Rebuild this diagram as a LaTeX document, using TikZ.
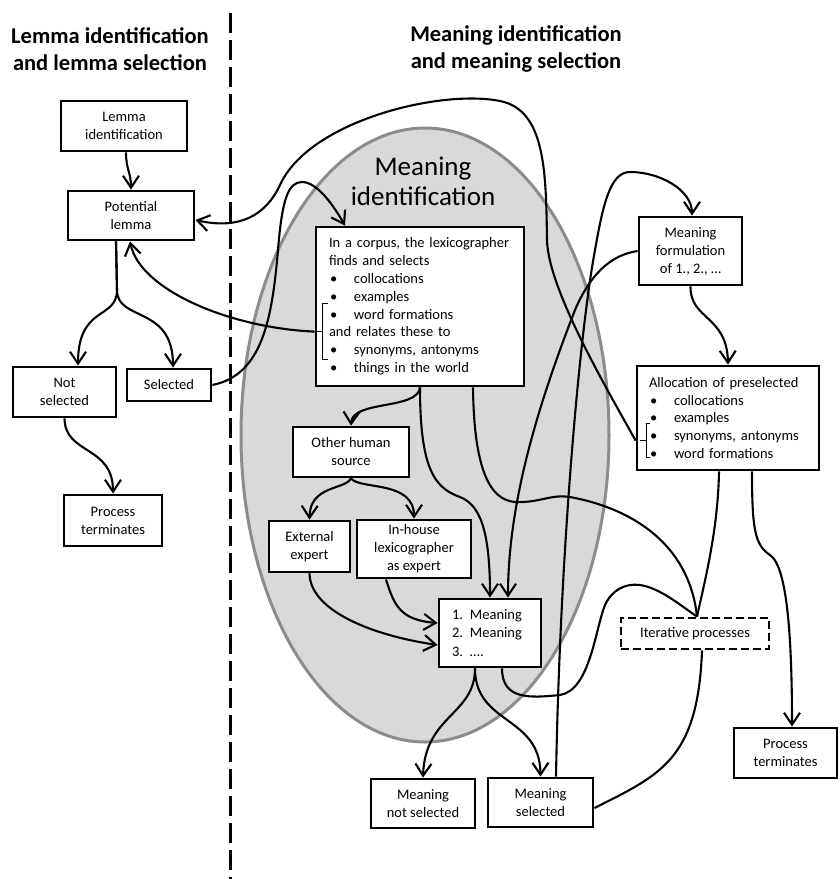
\documentclass[tikz,border=0pt]{standalone}
\usepackage{fontspec}
\setmainfont{Carlito}
\usetikzlibrary{arrows.meta,calc}
\definecolor{ellfill}{HTML}{D9D9D9}
\definecolor{ellline}{HTML}{8C8C8C}
\newcommand\bul{\makebox[25pt][l]{\hspace{1pt}•}}
\begin{document}
\begin{tikzpicture}[x=1pt,y=-1pt,
  box/.style={draw, line width=2.8pt, fill=white, align=center, inner sep=1pt,
    font=\fontsize{14.5}{18}\selectfont},
  listbox/.style={box, align=left, font=\fontsize{14.5}{17.8}\selectfont},
  conn/.style={line width=2.1pt},
  arr/.style={conn, -{Straight Barb[length=12pt,width=16pt]}},
  brk/.style={line width=1pt},
  header/.style={font=\fontsize{22.5}{27}\selectfont\bfseries, align=center}]

\useasboundingbox (0,0) rectangle (839,879);

% divider
\coordinate (divtop) at (230,13);
\coordinate (divbot) at (230,879);
\draw[line width=3pt, dash pattern=on 20pt off 7pt] (divtop) -- (divbot);

% ellipse
\draw[fill=ellfill, draw=ellline, line width=3pt] (425,435) ellipse [x radius=184pt, y radius=307pt];
\node[font=\fontsize{27}{30}\selectfont, align=center] (etitle) at (423,181) {Meaning\\identification};

% headers
\node[header] (hl) at (110,49) {Lemma identification\\and lemma selection};
\node[header] (hm) at (516,49) {Meaning identification\\and meaning selection};

% boxes
\node[box, minimum width=126pt, minimum height=50pt] (lemid) at (124,126) {Lemma\\identification};
\node[box, minimum width=126pt, minimum height=49pt] (potlem) at (131,215.5) {Potential\\lemma};
\node[box, minimum width=103pt, minimum height=50pt] (notsel) at (64.5,392) {Not\\selected};
\node[box, minimum width=84pt, minimum height=32pt] (sel) at (169,385) {Selected};
\node[box, minimum width=98pt, minimum height=51pt] (pterm1) at (113,520.5) {Process\\terminates};

\node[listbox, text width=182pt, inner xsep=13pt, minimum height=159pt] (corpus) at (420,306.5)
 {In a corpus, the lexicographer\\finds and selects\\\bul collocations\\\bul examples\\\bul word formations\\and relates these to\\\bul synonyms, antonyms\\\bul things in the world};

\node[box, minimum width=116pt, minimum height=50pt] (other) at (351,452) {Other human\\source};
\node[box, minimum width=81pt, minimum height=51pt] (ext) at (309.5,546.5) {External\\expert};
\node[box, minimum width=114pt, minimum height=58pt] (inh) at (414,549) {In-house\\lexicographer\\as expert};

\node[listbox, text width=76pt, inner xsep=13pt, minimum height=68pt, font=\fontsize{14.5}{18.5}\selectfont] (mlist) at (490,633)
 {\makebox[18pt][l]{1.}Meaning\\\makebox[18pt][l]{2.}Meaning\\\makebox[18pt][l]{3.}….};

\node[box, minimum width=104pt, minimum height=49pt] (mnot) at (423,803.5) {Meaning\\not selected};
\node[box, minimum width=105pt, minimum height=49pt] (msel) at (540.5,802.5) {Meaning\\selected};

\node[box, minimum width=103pt, minimum height=68pt] (mform) at (690.5,251) {Meaning\\formulation\\of 1., 2., …};

\node[listbox, text width=158pt, inner xsep=12pt, minimum height=104pt] (alloc) at (728,418)
 {Allocation of preselected\\\bul collocations\\\bul examples\\\bul synonyms, antonyms\\\bul word formations};

\node[box, dash pattern=on 8pt off 4pt, minimum width=148pt, minimum height=31pt] (iter) at (695,633.5) {Iterative processes};
\node[box, minimum width=103pt, minimum height=50pt] (pterm2) at (785.5,753) {Process\\terminates};

% brackets
\coordinate (cbr) at ([shift={(0,106)}]corpus.north west);
\draw[brk] ([shift={(13,78)}]corpus.north west) -- ([shift={(8,78)}]corpus.north west)
  -- ([shift={(8,134)}]corpus.north west) -- ([shift={(13,134)}]corpus.north west);
\draw[brk] (cbr) -- ([shift={(8,106)}]corpus.north west);

\coordinate (abr) at ([shift={(0,76)}]alloc.north west);
\draw[brk] ([shift={(14,59)}]alloc.north west) -- ([shift={(11,59)}]alloc.north west)
  -- ([shift={(11,93)}]alloc.north west) -- ([shift={(14,93)}]alloc.north west);
\draw[brk] ([shift={(4,76)}]alloc.north west) -- ([shift={(11,76)}]alloc.north west);

% connectors
\draw[arr] ([xshift=2pt]lemid.south) .. controls (126,170) and (131,172) .. (potlem.north);

\draw[arr] ([xshift=-15pt]potlem.south) -- (117,290) .. controls (117,320) and (78,305) .. ([xshift=13.5pt]notsel.north);
\draw[arr] ([xshift=-15pt]potlem.south) -- (117,290) .. controls (117,322) and (173,305) .. ([xshift=4pt]sel.north);

\draw[arr] (notsel.south) .. controls (65,455) and (113,445) .. ([xshift=0pt]pterm1.north);

\draw[arr] (sel.east) .. controls (262,375) and (272,320) .. (278,250)
  .. controls (282,200) and (288,182) .. (302,182)
  .. controls (318,182) and (335,208) .. ([xshift=-75pt]corpus.north);

\draw[arr] (cbr) .. controls (230,328) and (140,290) .. ([xshift=-1pt]potlem.south);

\draw[arr] (abr) .. controls (610,394) and (548,290) .. (547,240)
  .. controls (546,170) and (545,110) .. (500,101)
  .. controls (440,89) and (309,121) .. (280,185)
  .. controls (266,215) and (240,230) .. ([yshift=-4.5pt]potlem.east);

\draw[arr] (mform.west) .. controls (610,255) and (590,275) .. (575,310)
  .. controls (540,400) and (508,500) .. ([xshift=18pt]mlist.north);

\draw[arr] (corpus.south) .. controls (420,470) and (435,488) .. (460,497)
  .. controls (480,505) and (490,530) .. (mlist.north);

\draw[arr] (corpus.south) .. controls (418,410) and (352,400) .. (other.north);

\draw[arr] (other.south) .. controls (345,490) and (310,485) .. (ext.north);
\draw[arr] (other.south) .. controls (360,490) and (414,480) .. (inh.north);

\draw[arr] (ext.south) .. controls (310,610) and (370,635) .. ([yshift=-12pt]mlist.west);
\draw[arr] ([xshift=-28pt]inh.south) .. controls (394,605) and (400,620) .. ([yshift=10pt]mlist.west);

\draw[conn] ([xshift=53pt]corpus.south) .. controls (474,470) and (490,500) .. (515,502)
  .. controls (540,503) and (550,494) .. (570,497)
  .. controls (640,510) and (690,550) .. ([xshift=2pt]iter.north);

\draw[conn] ([xshift=12pt]mlist.south) .. controls (502,700) and (530,698) .. (560,695)
  .. controls (590,690) and (595,630) .. (605,605)
  .. controls (612,590) and (625,583) .. (640,585)
  .. controls (660,588) and (680,605) .. ([xshift=2pt]iter.north);

\draw[conn] ([xshift=-9pt]alloc.south) .. controls (718,530) and (705,580) .. ([xshift=2pt]iter.north);

\draw[arr] ([xshift=24pt]alloc.south) .. controls (752,530) and (755,545) .. (770,555)
  .. controls (785,565) and (792,620) .. ([xshift=6.5pt]pterm2.north);

\draw[conn] ([xshift=7pt]iter.south) .. controls (698,760) and (660,775) .. ([yshift=-5.5pt]msel.east);

\draw[arr] ([xshift=15.5pt]msel.north) .. controls (560,550) and (580,330) .. (595,250)
  .. controls (603,205) and (610,172) .. (630,172)
  .. controls (660,172) and (692,190) .. ([xshift=1.5pt]mform.north);

\draw[arr] (mform.south) .. controls (690,320) and (727,315) .. (alloc.north);

\draw[arr] ([xshift=-15pt]mlist.south) .. controls (475,715) and (425,715) .. (mnot.north);
\draw[arr] ([xshift=-15pt]mlist.south) .. controls (475,725) and (540,715) .. (msel.north);

\end{tikzpicture}
\end{document}
